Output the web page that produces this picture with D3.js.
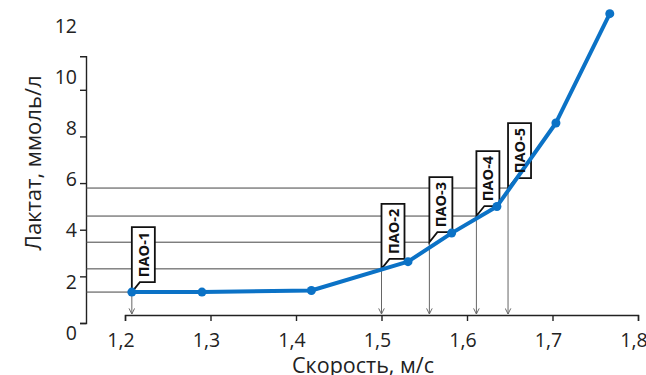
<!DOCTYPE html>
<html>
<head>
<meta charset="utf-8">
<script src="https://cdn.jsdelivr.net/npm/d3@7"></script>
<style>
    body { margin: 0; background: #fff; }
    svg { display: block; font-family: "Open Sans", sans-serif; }
</style>
</head>
<body>
<div id="chart"></div>
<script>
// данные
var speed = [1.208, 1.29, 1.418, 1.531, 1.582, 1.635, 1.704, 1.767];
var lactate = [1.16, 1.16, 1.22, 2.3, 3.37, 4.37, 7.5, 11.6];

var paoNames = ["ПАО-1", "ПАО-2", "ПАО-3", "ПАО-4", "ПАО-5"];
var paoSpeed = [1.208, 1.5, 1.556, 1.611, 1.648];
var paoLactate = [1.16, 2.03, 3.03, 4.01, 5.06];

var xTicks = [1.2, 1.3, 1.4, 1.5, 1.6, 1.7, 1.8];
var yTicks = [0, 2, 4, 6, 8, 10, 12];

var width = 646, height = 375;
var axisY = 315;   // линия оси X
var blue = "#0b72c6";

var svg = d3.select("#chart")
    .append("svg")
    .attr("width", width)
    .attr("height", height);

var x = d3.scaleLinear().domain([1.2, 1.8]).range([125, 638]);
var y = d3.scaleLinear().domain([0, 10]).range([323, 56.3]);
// подписи оси Y стоят чуть ниже засечек
var yLab = d3.scaleLinear().domain([0, 12]).range([333, 26]);

// ось Y (засечки)
var yAxisScale = y.copy().domain([0, y.invert(18)]);
svg.append("g")
    .attr("transform", "translate(86,0)")
    .call(d3.axisLeft(yAxisScale)
        .tickValues(yTicks.filter(d => d <= 10))
        .tickSize(6)
        .tickSizeOuter(6)
        .tickFormat(""))
    .call(g => g.selectAll("path, line").attr("stroke", "#222").attr("stroke-width", 1.4));

// ось Y (подписи)
svg.append("g")
    .attr("transform", "translate(86,0)")
    .call(d3.axisLeft(yLab).tickValues(yTicks).tickSize(0).tickPadding(9))
    .call(g => g.select(".domain").remove())
    .call(g => g.selectAll("text")
        .style("font-size", "19.5px")
        .attr("fill", "#222")
        .attr("font-family", "Open Sans"));

// ось X
svg.append("g")
    .attr("transform", "translate(0," + axisY + ")")
    .call(d3.axisBottom(x).tickValues(xTicks).tickSize(6).tickSizeOuter(6).tickFormat(""))
    .call(g => g.selectAll("path, line").attr("stroke", "#222").attr("stroke-width", 1.4));

svg.append("g")
    .attr("transform", "translate(-4.5," + axisY + ")")
    .call(d3.axisBottom(x).tickValues(xTicks).tickSize(0).tickPadding(18)
        .tickFormat(d => d.toFixed(1).replace(".", ",")))
    .call(g => g.select(".domain").remove())
    .call(g => g.selectAll("text")
        .style("font-size", "19.5px")
        .attr("fill", "#222")
        .attr("font-family", "Open Sans"));

// названия осей
svg.append("text")
    .attr("x", 363)
    .attr("y", 372.5)
    .attr("text-anchor", "middle")
    .style("font-size", "21.5px")
    .attr("fill", "#222")
    .text("Скорость, м/с");

svg.append("text")
    .attr("transform", "translate(41,163) rotate(-90)")
    .attr("text-anchor", "middle")
    .style("font-size", "22px")
    .attr("fill", "#222")
    .text("Лактат, ммоль/л");

// стрелка
svg.append("defs").append("marker")
    .attr("id", "arrow")
    .attr("viewBox", "0 0 10 10")
    .attr("refX", 9)
    .attr("refY", 5)
    .attr("markerWidth", 7)
    .attr("markerHeight", 7)
    .attr("markerUnits", "userSpaceOnUse")
    .attr("orient", "auto")
    .append("path")
    .attr("d", "M1,1 L9,5 L1,9")
    .attr("fill", "none")
    .attr("stroke", "#666")
    .attr("stroke-width", 1.4);

var pao = paoNames.map((n, i) => ({ name: n, s: paoSpeed[i], l: paoLactate[i] }));

// горизонтальные линии уровней
svg.selectAll(".level")
    .data(pao)
    .enter()
    .append("line")
    .attr("class", "level")
    .attr("x1", 86)
    .attr("x2", d => x(d.s))
    .attr("y1", d => y(d.l))
    .attr("y2", d => y(d.l))
    .attr("stroke", "#444")
    .attr("stroke-width", 1);

// вертикальные стрелки к оси
svg.selectAll(".drop")
    .data(pao)
    .enter()
    .append("line")
    .attr("class", "drop")
    .attr("x1", d => x(d.s))
    .attr("x2", d => x(d.s))
    .attr("y1", d => y(d.l))
    .attr("y2", axisY - 1)
    .attr("stroke", "#666")
    .attr("stroke-width", 1)
    .attr("marker-end", "url(#arrow)");

// выноски
var bw = 23, bh = 55, off = 10;
svg.selectAll(".callout")
    .data(pao)
    .enter()
    .append("path")
    .attr("class", "callout")
    .attr("d", function (d) {
        var px = x(d.s), py = y(d.l);
        return "M" + px + "," + (py - off) +
            " L" + px + "," + (py - off - bh) +
            " L" + (px + bw) + "," + (py - off - bh) +
            " L" + (px + bw) + "," + (py - off) +
            " L" + (px + 8) + "," + (py - off) +
            " L" + px + "," + py + " Z";
    })
    .attr("fill", "#fff")
    .attr("stroke", "#111")
    .attr("stroke-width", 1.8)
    .attr("stroke-linejoin", "miter");

// кривая лактата
var points = speed.map((s, i) => [s, lactate[i]]);
svg.append("path")
    .datum(points)
    .attr("fill", "none")
    .attr("stroke", blue)
    .attr("stroke-width", 4)
    .attr("stroke-linejoin", "round")
    .attr("d", d3.line().x(d => x(d[0])).y(d => y(d[1])));

svg.selectAll(".dot")
    .data(points)
    .enter()
    .append("circle")
    .attr("class", "dot")
    .attr("cx", d => x(d[0]))
    .attr("cy", d => y(d[1]))
    .attr("r", 4.5)
    .attr("fill", blue);

// подписи ПАО
svg.selectAll(".pao-label")
    .data(pao)
    .enter()
    .append("text")
    .attr("class", "pao-label")
    .attr("transform", d => "translate(" + (x(d.s) + bw / 2 + 5.5) + "," + (y(d.l) - off - bh / 2) + ") rotate(-90)")
    .attr("text-anchor", "middle")
    .style("font-size", "14.5px")
    .style("font-weight", "bold")
    .attr("fill", "#111")
    .text(d => d.name);
</script>
</body>
</html>
